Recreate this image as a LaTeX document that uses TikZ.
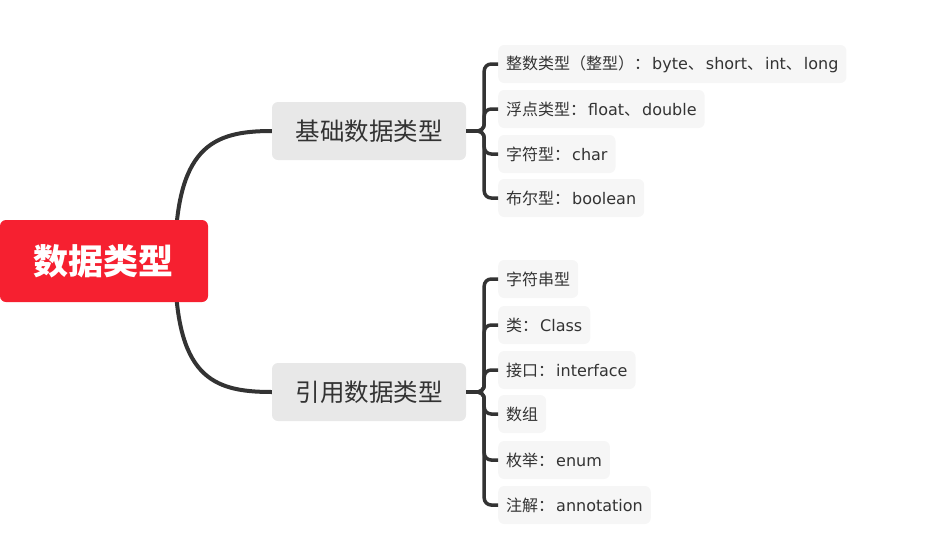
\documentclass[tikz,border=0pt]{standalone}
\usepackage{fontspec}
\setmainfont{Noto Sans CJK SC}
\newfontfamily\enfont[Scale=1.0]{DejaVu Sans}
\newcommand{\en}[1]{{\enfont\hspace{2pt}#1}}
\definecolor{rootred}{RGB}{246,32,48}
\definecolor{midgray}{RGB}{232,232,232}
\definecolor{leafgray}{RGB}{246,246,246}
\definecolor{ink}{RGB}{51,51,51}
\tikzset{
  rootbox/.style={fill=rootred, rounded corners=6pt, text=white, font=\fontsize{35}{38}\selectfont\bfseries, minimum width=208pt, minimum height=82pt},
  midbox/.style={fill=midgray, rounded corners=6pt, text=ink, font=\fontsize{24.5}{28}\selectfont, minimum width=194pt, minimum height=58pt},
  leafbox/.style={fill=leafgray, rounded corners=6pt, text=ink, font=\fontsize{16}{19}\selectfont, anchor=west, minimum height=38pt, inner xsep=8pt},
  trunk/.style={ink, line width=4pt},
  twig/.style={ink, line width=3.5pt, rounded corners=7pt}
}
\begin{document}
\begin{tikzpicture}[x=1pt, y=-1pt]
\useasboundingbox (0,0) rectangle (951,547);

\coordinate (hub) at (175,262); % start of the two main curves
\node[midbox] (basic) at (369,131) {基础数据类型};
\node[midbox] (ref)   at (369,392) {引用数据类型};
\draw[trunk] (hub) .. controls +(0,-115) and +(-60,0) .. (basic.west);
\draw[trunk] (hub) .. controls +(0,115) and +(-60,0) .. (ref.west);
\node[rootbox] (root) at (104,261) {数据类型};

% basic types
\node[leafbox] (int)   at (498,64)  {整数类型（整型）：\en{byte}、\en{short}、\en{int}、\en{long}};
\node[leafbox] (float) at (498,109) {浮点类型：\en{float}、\en{double}};
\node[leafbox] (char)  at (498,154) {字符型：\en{char}};
\node[leafbox] (bool)  at (498,198) {布尔型：\en{boolean}};
\foreach \leaf in {int,float,char,bool}
  \draw[twig] (basic.east) -- ++(18,0) |- (\leaf.west);

% reference types
\node[leafbox] (str)   at (498,279) {字符串型};
\node[leafbox] (cls)   at (498,325) {类：\en{Class}};
\node[leafbox] (iface) at (498,370) {接口：\en{interface}};
\node[leafbox] (arr)   at (498,414) {数组};
\node[leafbox] (enum)  at (498,460) {枚举：\en{enum}};
\node[leafbox] (anno)  at (498,505) {注解：\en{annotation}};
\foreach \leaf in {str,cls,iface,arr,enum,anno}
  \draw[twig] (ref.east) -- ++(18,0) |- (\leaf.west);

\end{tikzpicture}
\end{document}
